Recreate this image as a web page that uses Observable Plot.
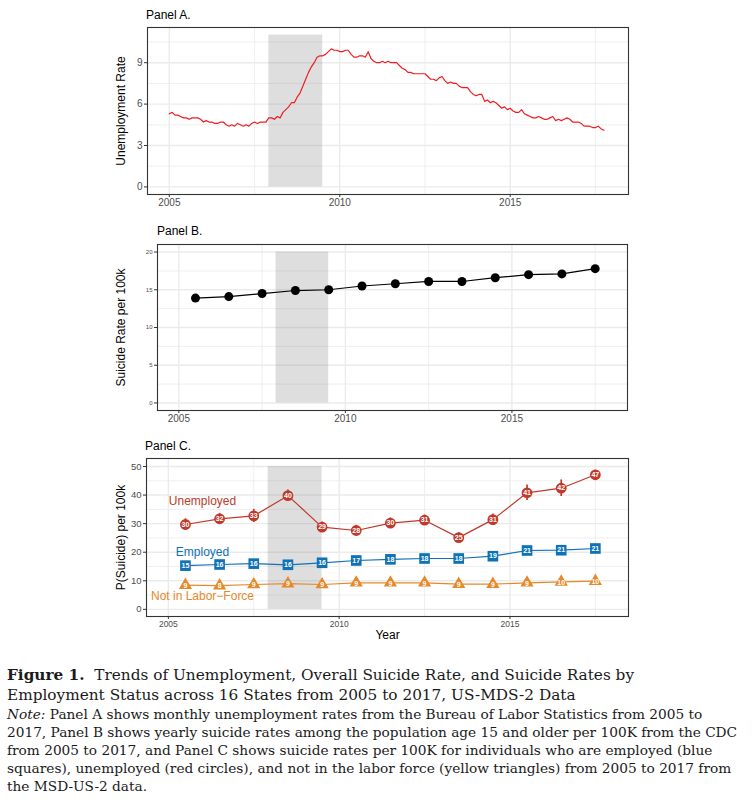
<!DOCTYPE html>
<html>
<head>
<meta charset="utf-8">
<script src="https://cdn.jsdelivr.net/npm/d3@7"></script>
<script src="https://cdn.jsdelivr.net/npm/@observablehq/plot@0.6"></script>
<style>
  html, body { margin: 0; padding: 0; background: #fff; }
  #root { position: relative; width: 755px; height: 808px; overflow: hidden; font-family: "Liberation Sans", Arial, sans-serif; }
  .ptitle { position: absolute; font-size: 12px; color: #000; line-height: 14px; white-space: nowrap; }
  .panel { position: absolute; left: 0; }
  #caption { position: absolute; left: 7px; top: 666px; font-family: "DejaVu Serif", serif; color: #1a1a1a; white-space: nowrap; }
  #caption .t { font-size: 15.3px; line-height: 19.5px; }
  #caption .n { font-size: 13.7px; line-height: 18px; }
</style>
</head>
<body>
<div id="root">
  <div class="ptitle" style="left:146px;top:8px">Panel A.</div>
  <div class="panel" id="pa" style="top:20px"></div>
  <div class="ptitle" style="left:157px;top:224px">Panel B.</div>
  <div class="panel" id="pb" style="top:236px"></div>
  <div class="ptitle" style="left:145px;top:439px">Panel C.</div>
  <div class="panel" id="pc" style="top:450px"></div>
  <div id="caption">
    <div class="t"><b>Figure 1.</b>&nbsp; Trends of Unemployment, Overall Suicide Rate, and Suicide Rates by<br>Employment Status across 16 States from 2005 to 2017, US-MDS-2 Data</div>
    <div class="n"><i>Note:</i> Panel A shows monthly unemployment rates from the Bureau of Labor Statistics from 2005 to<br>2017, Panel B shows yearly suicide rates among the population age 15 and older per 100K from the CDC<br>from 2005 to 2017, and Panel C shows suicide rates per 100K for individuals who are employed (blue<br>squares), unemployed (red circles), and not in the labor force (yellow triangles) from 2005 to 2017 from<br>the MSD-US-2 data.</div>
  </div>
</div>
<script>
// ---------------- data ----------------
const years = [2005, 2006, 2007, 2008, 2009, 2010, 2011, 2012, 2013, 2014, 2015, 2016, 2017];
const recession = [2007.92, 2009.5];

// Panel A: monthly unemployment rate, Jan 2005 – Oct 2017
const unemploymentStartYear = 2005;
const unemploymentRate = [
  5.3, 5.4, 5.2, 5.2, 5.1, 5.0, 5.0, 4.9, 5.0, 5.0, 5.0, 4.9,
  4.7, 4.8, 4.7, 4.7, 4.6, 4.6, 4.7, 4.7, 4.5, 4.4, 4.5, 4.4,
  4.6, 4.5, 4.4, 4.5, 4.4, 4.6, 4.7, 4.6, 4.7, 4.7, 4.7, 5.0,
  5.0, 4.9, 5.1, 5.0, 5.4, 5.6, 5.8, 6.1, 6.1, 6.5, 6.8, 7.3,
  7.8, 8.3, 8.7, 9.0, 9.4, 9.5, 9.5, 9.6, 9.8, 10.0, 9.9, 9.9,
  9.8, 9.8, 9.9, 9.9, 9.6, 9.4, 9.4, 9.5, 9.5, 9.4, 9.8, 9.3,
  9.1, 9.0, 9.0, 9.1, 9.0, 9.1, 9.0, 9.0, 9.0, 8.8, 8.6, 8.5,
  8.3, 8.3, 8.2, 8.2, 8.2, 8.2, 8.2, 8.0, 7.8, 7.8, 7.7, 7.9,
  8.0, 7.7, 7.5, 7.6, 7.5, 7.5, 7.3, 7.2, 7.2, 7.2, 6.9, 6.7,
  6.6, 6.7, 6.7, 6.2, 6.3, 6.1, 6.2, 6.1, 5.9, 5.7, 5.8, 5.6,
  5.7, 5.5, 5.4, 5.4, 5.6, 5.3, 5.2, 5.1, 5.0, 5.0, 5.1, 5.0,
  4.9, 4.9, 5.0, 5.1, 4.8, 4.9, 4.8, 4.9, 5.0, 4.9, 4.7, 4.7,
  4.7, 4.6, 4.4, 4.4, 4.4, 4.3, 4.3, 4.4, 4.2, 4.1
];

// Panel B: overall suicide rate per 100k
const suicideRate = [13.9, 14.1, 14.5, 14.9, 15.0, 15.5, 15.8, 16.1, 16.1, 16.6, 17.0, 17.1, 17.8];

// Panel C: suicide rate per 100k by employment status
const unemployed   = [29.7, 31.7, 32.7, 39.8, 28.8, 27.6, 30.2, 31.2, 25.1, 31.4, 40.8, 42.4, 47.1];
const unemployedSE = [2.0, 1.9, 2.3, 2.0, 1.8, 1.8, 1.8, 1.8, 1.7, 2.0, 2.7, 2.9, 1.6];
const employed     = [15.3, 15.7, 16.0, 15.6, 16.3, 17.1, 17.5, 17.8, 17.8, 18.6, 20.6, 20.7, 21.3];
const notInLabor   = [8.5, 8.3, 8.7, 9.0, 8.7, 9.3, 9.3, 9.3, 8.8, 8.8, 9.3, 9.6, 9.9];
const seriesNames  = ["Unemployed", "Employed", "Not in Labor\u2212Force"];
const seriesLabelX = [2006, 2006, 2006];
const seriesLabelY = [38, 20, 4.7];

// axes
const xDomain = [2004.36, 2018.47];
const xTicks = [2005, 2010, 2015];
const xMinor = [2007.5, 2012.5, 2017.5];
const yDomainA = [-0.55, 11.55], yTicksA = [0, 3, 6, 9], yMinorA = [1.5, 4.5, 7.5, 10.5], shadeTopA = 11;
const yDomainB = [-1.0, 21.0], yTicksB = [0, 5, 10, 15, 20], yMinorB = [2.5, 7.5, 12.5, 17.5], shadeTopB = 20;
const yDomainC = [-2.5, 52.8], yTicksC = [0, 10, 20, 30, 40, 50], yMinorC = [5, 15, 25, 35, 45], shadeTopC = 50;

// ---------------- style ----------------
const gridColor = "#EBEBEB";
const shadeFill = "#7F7F7F", shadeOpacity = 0.26;
const colA = "#EE1D23";
const colU = "#C0392B", colE = "#0F72B5", colN = "#E5892B";
const font = "'Liberation Sans', Arial, sans-serif";

function background(yMinor, yTicks, shadeTop) {
  return [
    Plot.ruleX(xMinor, {stroke: gridColor, strokeWidth: 0.8}),
    Plot.ruleY(yMinor, {stroke: gridColor, strokeWidth: 0.8}),
    Plot.ruleX(xTicks, {stroke: gridColor, strokeWidth: 1.4}),
    Plot.ruleY(yTicks, {stroke: gridColor, strokeWidth: 1.4}),
    Plot.rect([recession], {x1: d => d[0], x2: d => d[1], y1: 0, y2: shadeTop, fill: shadeFill, fillOpacity: shadeOpacity})
  ];
}
function axes(yTicks, xFont, yFont, yTitle, yTitleOffset) {
  return [
    Plot.frame({stroke: "#333", strokeWidth: 1.1}),
    Plot.axisX({ticks: xTicks, tickFormat: d => String(d), tickSize: 3, tickPadding: 1.5, fontSize: xFont, fill: "#4D4D4D", stroke: "#333", label: null}),
    Plot.axisY({ticks: yTicks, tickFormat: d => String(d), tickSize: 3, tickPadding: 2, fontSize: yFont, fill: "#4D4D4D", stroke: "#333", label: null}),
    Plot.text([yTitle], {frameAnchor: "left", rotate: -90, dx: -yTitleOffset, text: d => d, fontSize: 12, fill: "#000", textAnchor: "middle"})
  ];
}

// Panel A
const dataA = unemploymentRate.map((v, i) => ({t: unemploymentStartYear + i / 12, v}));
document.getElementById("pa").append(Plot.plot({
  width: 640, height: 194, marginLeft: 147, marginRight: 12, marginTop: 7, marginBottom: 20,
  style: {fontFamily: font, background: "transparent"},
  x: {domain: xDomain}, y: {domain: yDomainA},
  marks: [
    ...background(yMinorA, yTicksA, shadeTopA),
    Plot.line(dataA, {x: "t", y: "v", stroke: colA, strokeWidth: 1.2}),
    ...axes(yTicksA, 10, 10, "Unemployment Rate", 26)
  ]
}));

// Panel B
const dataB = years.map((y, i) => ({t: y + 0.5, v: suicideRate[i]}));
document.getElementById("pb").append(Plot.plot({
  width: 640, height: 194, marginLeft: 157, marginRight: 13, marginTop: 8, marginBottom: 20,
  style: {fontFamily: font, background: "transparent"},
  x: {domain: xDomain}, y: {domain: yDomainB},
  marks: [
    ...background(yMinorB, yTicksB, shadeTopB),
    Plot.line(dataB, {x: "t", y: "v", stroke: "#000", strokeWidth: 1.2}),
    Plot.dot(dataB, {x: "t", y: "v", r: 4.5, fill: "#000"}),
    ...axes(yTicksB, 10, 6, "Suicide Rate per 100k", 36)
  ]
}));

// Panel C
const rowsU = years.map((y, i) => ({t: y + 0.5, v: unemployed[i], se: unemployedSE[i]}));
const rowsE = years.map((y, i) => ({t: y + 0.5, v: employed[i]}));
const rowsN = years.map((y, i) => ({t: y + 0.5, v: notInLabor[i]}));
const labelRows = seriesNames.map((s, i) => ({s, x: seriesLabelX[i], y: seriesLabelY[i], c: [colU, colE, colN][i]}));
const lbl = d => d3.format(".0f")(d.v);
const markerText = {x: "t", y: "v", text: lbl, fill: "#fff", fontSize: 7, fontWeight: "bold"};
document.getElementById("pc").append(Plot.plot({
  width: 640, height: 196, marginLeft: 146, marginRight: 12, marginTop: 8, marginBottom: 30,
  style: {fontFamily: font, background: "transparent"},
  x: {domain: xDomain}, y: {domain: yDomainC},
  marks: [
    ...background(yMinorC, yTicksC, shadeTopC),
    Plot.line(rowsN, {x: "t", y: "v", stroke: colN, strokeWidth: 1.2}),
    Plot.line(rowsE, {x: "t", y: "v", stroke: colE, strokeWidth: 1.2}),
    Plot.line(rowsU, {x: "t", y: "v", stroke: colU, strokeWidth: 1.2}),
    Plot.ruleX(rowsU, {x: "t", y1: d => d.v - d.se, y2: d => d.v + d.se, stroke: colU, strokeWidth: 1.7}),
    Plot.dot(rowsN, {x: "t", y: "v", symbol: "triangle", r: 4.9, fill: colN}),
    Plot.dot(rowsE, {x: "t", y: "v", symbol: "square", r: 6.0, fill: colE}),
    Plot.dot(rowsU, {x: "t", y: "v", symbol: "circle", r: 5.4, fill: colU}),
    Plot.text(rowsN, {...markerText, dy: 0.5}),
    Plot.text(rowsE, markerText),
    Plot.text(rowsU, markerText),
    Plot.text(labelRows, {x: "x", y: "y", text: "s", fill: "c", fontSize: 12}),
    ...axes(yTicksC, 8.5, 9.5, "P(Suicide) per 100k", 25),
    Plot.text(["Year"], {frameAnchor: "bottom", dy: 22, text: d => d, fontSize: 12, fill: "#000"})
  ]
}));
</script>
</body>
</html>
